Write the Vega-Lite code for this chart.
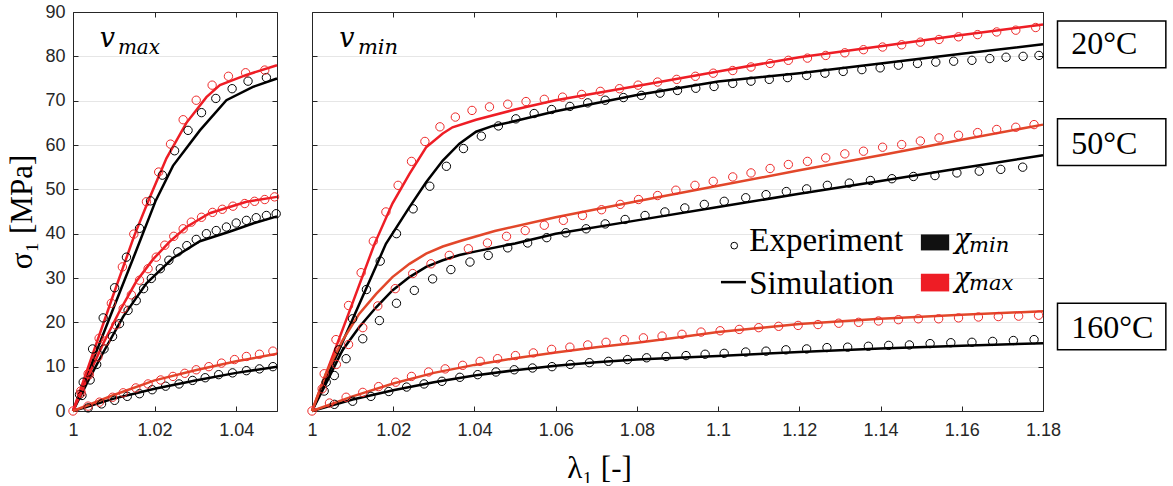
{
  "$schema": "https://vega.github.io/schema/vega-lite/v6.json",
  "background": "white",
  "padding": {"left": 6, "top": 3, "right": 0, "bottom": 0},
  "spacing": 35,
  "bounds": "flush",
  "config": {
    "view": {"stroke": null},
    "axis": {
      "domainColor": "#262626", "domainWidth": 1,
      "tickColor": "#262626", "tickWidth": 1, "tickSize": -5,
      "labelColor": "#262626", "labelFont": "Liberation Sans", "labelFontSize": 18,
      "labelFlush": false, "labelOverlap": false,
      "gridColor": "#e6e6e6", "gridWidth": 1,
      "titleFont": "Liberation Serif", "titleFontWeight": "normal", "titleColor": "#000", "titleFontSize": 31
    }
  },
  "datasets": {
    "sim": [
      {"p":"L","t":20,"c":"max","x":1,"y":0},{"p":"L","t":20,"c":"max","x":1.005,"y":13.3},{"p":"L","t":20,"c":"max","x":1.01,"y":26.5},{"p":"L","t":20,"c":"max","x":1.015,"y":39.5},{"p":"L","t":20,"c":"max","x":1.0185,"y":47.5},{"p":"L","t":20,"c":"max","x":1.0229,"y":57.0},{"p":"L","t":20,"c":"max","x":1.0278,"y":65.0},{"p":"L","t":20,"c":"max","x":1.0327,"y":70.8},{"p":"L","t":20,"c":"max","x":1.036,"y":73.5},{"p":"L","t":20,"c":"max","x":1.0425,"y":75.8},{"p":"L","t":20,"c":"max","x":1.05,"y":78.0},
      {"p":"L","t":20,"c":"min","x":1,"y":0},{"p":"L","t":20,"c":"min","x":1.005,"y":11.7},{"p":"L","t":20,"c":"min","x":1.01,"y":23.4},{"p":"L","t":20,"c":"min","x":1.015,"y":35.0},{"p":"L","t":20,"c":"min","x":1.0203,"y":47.5},{"p":"L","t":20,"c":"min","x":1.0245,"y":55.3},{"p":"L","t":20,"c":"min","x":1.0311,"y":63.3},{"p":"L","t":20,"c":"min","x":1.0376,"y":70.1},{"p":"L","t":20,"c":"min","x":1.0441,"y":73.1},{"p":"L","t":20,"c":"min","x":1.05,"y":75.0},
      {"p":"L","t":50,"c":"max","x":1,"y":0},{"p":"L","t":50,"c":"max","x":1.0037,"y":7.8},{"p":"L","t":50,"c":"max","x":1.0074,"y":15.2},{"p":"L","t":50,"c":"max","x":1.0114,"y":22.5},{"p":"L","t":50,"c":"max","x":1.0155,"y":29.2},{"p":"L","t":50,"c":"max","x":1.0196,"y":34.2},{"p":"L","t":50,"c":"max","x":1.0237,"y":38.2},{"p":"L","t":50,"c":"max","x":1.0278,"y":41.5},{"p":"L","t":50,"c":"max","x":1.0335,"y":44.6},{"p":"L","t":50,"c":"max","x":1.0425,"y":47.2},{"p":"L","t":50,"c":"max","x":1.05,"y":48.3},
      {"p":"L","t":50,"c":"min","x":1,"y":0},{"p":"L","t":50,"c":"min","x":1.0037,"y":6.8},{"p":"L","t":50,"c":"min","x":1.0074,"y":13.2},{"p":"L","t":50,"c":"min","x":1.0123,"y":21.3},{"p":"L","t":50,"c":"min","x":1.018,"y":28.8},{"p":"L","t":50,"c":"min","x":1.0245,"y":34.5},{"p":"L","t":50,"c":"min","x":1.0311,"y":38.3},{"p":"L","t":50,"c":"min","x":1.0385,"y":40.5},{"p":"L","t":50,"c":"min","x":1.0441,"y":42.3},{"p":"L","t":50,"c":"min","x":1.05,"y":43.9},
      {"p":"L","t":160,"c":"max","x":1,"y":0},{"p":"L","t":160,"c":"max","x":1.01,"y":3.6},{"p":"L","t":160,"c":"max","x":1.02,"y":6.9},{"p":"L","t":160,"c":"max","x":1.03,"y":9.2},{"p":"L","t":160,"c":"max","x":1.04,"y":11.2},{"p":"L","t":160,"c":"max","x":1.05,"y":12.9},
      {"p":"L","t":160,"c":"min","x":1,"y":0},{"p":"L","t":160,"c":"min","x":1.01,"y":2.8},{"p":"L","t":160,"c":"min","x":1.02,"y":5.0},{"p":"L","t":160,"c":"min","x":1.03,"y":6.9},{"p":"L","t":160,"c":"min","x":1.04,"y":8.6},{"p":"L","t":160,"c":"min","x":1.05,"y":10.0},
      {"p":"R","t":20,"c":"max","x":1,"y":0},{"p":"R","t":20,"c":"max","x":1.005,"y":12.2},{"p":"R","t":20,"c":"max","x":1.01,"y":24.4},{"p":"R","t":20,"c":"max","x":1.0154,"y":37.7},{"p":"R","t":20,"c":"max","x":1.0198,"y":46.8},{"p":"R","t":20,"c":"max","x":1.024,"y":53.5},{"p":"R","t":20,"c":"max","x":1.0281,"y":59.5},{"p":"R","t":20,"c":"max","x":1.0322,"y":62.6},{"p":"R","t":20,"c":"max","x":1.0346,"y":64.0},{"p":"R","t":20,"c":"max","x":1.0404,"y":65.7},{"p":"R","t":20,"c":"max","x":1.05,"y":68.0},{"p":"R","t":20,"c":"max","x":1.06,"y":70.1},{"p":"R","t":20,"c":"max","x":1.08,"y":73.3},{"p":"R","t":20,"c":"max","x":1.1,"y":76.6},{"p":"R","t":20,"c":"max","x":1.12,"y":79.8},{"p":"R","t":20,"c":"max","x":1.14,"y":82.3},{"p":"R","t":20,"c":"max","x":1.16,"y":84.8},{"p":"R","t":20,"c":"max","x":1.18,"y":87.2},
      {"p":"R","t":20,"c":"min","x":1,"y":0},{"p":"R","t":20,"c":"min","x":1.005,"y":10.3},{"p":"R","t":20,"c":"min","x":1.01,"y":20.7},{"p":"R","t":20,"c":"min","x":1.0182,"y":37.7},{"p":"R","t":20,"c":"min","x":1.024,"y":46.0},{"p":"R","t":20,"c":"min","x":1.0281,"y":51.6},{"p":"R","t":20,"c":"min","x":1.0322,"y":56.5},{"p":"R","t":20,"c":"min","x":1.0363,"y":60.3},{"p":"R","t":20,"c":"min","x":1.0404,"y":63.0},{"p":"R","t":20,"c":"min","x":1.0445,"y":64.3},{"p":"R","t":20,"c":"min","x":1.05,"y":65.4},{"p":"R","t":20,"c":"min","x":1.06,"y":67.6},{"p":"R","t":20,"c":"min","x":1.08,"y":71.3},{"p":"R","t":20,"c":"min","x":1.1,"y":74.3},{"p":"R","t":20,"c":"min","x":1.12,"y":76.2},{"p":"R","t":20,"c":"min","x":1.14,"y":78.4},{"p":"R","t":20,"c":"min","x":1.16,"y":80.6},{"p":"R","t":20,"c":"min","x":1.18,"y":82.7},
      {"p":"R","t":50,"c":"max","x":1,"y":0},{"p":"R","t":50,"c":"max","x":1.0034,"y":8.4},{"p":"R","t":50,"c":"max","x":1.0075,"y":15.9},{"p":"R","t":50,"c":"max","x":1.0116,"y":21.9},{"p":"R","t":50,"c":"max","x":1.0158,"y":26.4},{"p":"R","t":50,"c":"max","x":1.0198,"y":30.2},{"p":"R","t":50,"c":"max","x":1.024,"y":33.2},{"p":"R","t":50,"c":"max","x":1.0281,"y":35.5},{"p":"R","t":50,"c":"max","x":1.0322,"y":37.1},{"p":"R","t":50,"c":"max","x":1.0371,"y":38.5},{"p":"R","t":50,"c":"max","x":1.045,"y":40.6},{"p":"R","t":50,"c":"max","x":1.06,"y":43.7},{"p":"R","t":50,"c":"max","x":1.08,"y":47.3},{"p":"R","t":50,"c":"max","x":1.1,"y":50.8},{"p":"R","t":50,"c":"max","x":1.12,"y":54.3},{"p":"R","t":50,"c":"max","x":1.14,"y":57.7},{"p":"R","t":50,"c":"max","x":1.16,"y":61.2},{"p":"R","t":50,"c":"max","x":1.18,"y":64.6},
      {"p":"R","t":50,"c":"min","x":1,"y":0},{"p":"R","t":50,"c":"min","x":1.0034,"y":6.1},{"p":"R","t":50,"c":"min","x":1.0075,"y":13.7},{"p":"R","t":50,"c":"min","x":1.0116,"y":18.9},{"p":"R","t":50,"c":"min","x":1.0158,"y":23.4},{"p":"R","t":50,"c":"min","x":1.0198,"y":27.2},{"p":"R","t":50,"c":"min","x":1.024,"y":30.2},{"p":"R","t":50,"c":"min","x":1.0281,"y":32.5},{"p":"R","t":50,"c":"min","x":1.0322,"y":34.0},{"p":"R","t":50,"c":"min","x":1.0363,"y":35.2},{"p":"R","t":50,"c":"min","x":1.0404,"y":36.0},{"p":"R","t":50,"c":"min","x":1.05,"y":37.8},{"p":"R","t":50,"c":"min","x":1.06,"y":40.0},{"p":"R","t":50,"c":"min","x":1.08,"y":43.0},{"p":"R","t":50,"c":"min","x":1.1,"y":46.0},{"p":"R","t":50,"c":"min","x":1.12,"y":49.0},{"p":"R","t":50,"c":"min","x":1.14,"y":51.9},{"p":"R","t":50,"c":"min","x":1.16,"y":54.8},{"p":"R","t":50,"c":"min","x":1.18,"y":57.7},
      {"p":"R","t":160,"c":"max","x":1,"y":0},{"p":"R","t":160,"c":"max","x":1.01,"y":3.3},{"p":"R","t":160,"c":"max","x":1.02,"y":6.2},{"p":"R","t":160,"c":"max","x":1.03,"y":8.6},{"p":"R","t":160,"c":"max","x":1.04,"y":10.4},{"p":"R","t":160,"c":"max","x":1.05,"y":11.9},{"p":"R","t":160,"c":"max","x":1.06,"y":13.2},{"p":"R","t":160,"c":"max","x":1.07,"y":14.4},{"p":"R","t":160,"c":"max","x":1.08,"y":15.4},{"p":"R","t":160,"c":"max","x":1.09,"y":16.6},{"p":"R","t":160,"c":"max","x":1.1,"y":17.8},{"p":"R","t":160,"c":"max","x":1.12,"y":19.6},{"p":"R","t":160,"c":"max","x":1.14,"y":20.8},{"p":"R","t":160,"c":"max","x":1.16,"y":21.7},{"p":"R","t":160,"c":"max","x":1.18,"y":22.5},
      {"p":"R","t":160,"c":"min","x":1,"y":0},{"p":"R","t":160,"c":"min","x":1.01,"y":2.6},{"p":"R","t":160,"c":"min","x":1.02,"y":4.7},{"p":"R","t":160,"c":"min","x":1.03,"y":6.5},{"p":"R","t":160,"c":"min","x":1.04,"y":8.0},{"p":"R","t":160,"c":"min","x":1.05,"y":9.2},{"p":"R","t":160,"c":"min","x":1.06,"y":10.2},{"p":"R","t":160,"c":"min","x":1.07,"y":11.0},{"p":"R","t":160,"c":"min","x":1.08,"y":11.6},{"p":"R","t":160,"c":"min","x":1.09,"y":12.0},{"p":"R","t":160,"c":"min","x":1.1,"y":12.4},{"p":"R","t":160,"c":"min","x":1.12,"y":13.3},{"p":"R","t":160,"c":"min","x":1.14,"y":14.1},{"p":"R","t":160,"c":"min","x":1.16,"y":14.7},{"p":"R","t":160,"c":"min","x":1.18,"y":15.3}
    ],
    "exp": [
      {"p":"L","t":20,"c":"max","x":1,"y":0},{"p":"L","t":20,"c":"max","x":1.0019,"y":4.5},{"p":"L","t":20,"c":"max","x":1.0037,"y":8.4},{"p":"L","t":20,"c":"max","x":1.0064,"y":16.4},{"p":"L","t":20,"c":"max","x":1.0094,"y":24.3},{"p":"L","t":20,"c":"max","x":1.0121,"y":32.5},{"p":"L","t":20,"c":"max","x":1.0149,"y":39.9},{"p":"L","t":20,"c":"max","x":1.018,"y":47.2},{"p":"L","t":20,"c":"max","x":1.021,"y":53.9},{"p":"L","t":20,"c":"max","x":1.0239,"y":60.2},{"p":"L","t":20,"c":"max","x":1.027,"y":65.7},{"p":"L","t":20,"c":"max","x":1.0302,"y":70.1},{"p":"L","t":20,"c":"max","x":1.0341,"y":73.5},{"p":"L","t":20,"c":"max","x":1.0381,"y":75.5},{"p":"L","t":20,"c":"max","x":1.0423,"y":76.3},{"p":"L","t":20,"c":"max","x":1.047,"y":76.9},
      {"p":"L","t":20,"c":"min","x":1.0016,"y":3.7},{"p":"L","t":20,"c":"min","x":1.0025,"y":6.5},{"p":"L","t":20,"c":"min","x":1.0048,"y":14.0},{"p":"L","t":20,"c":"min","x":1.0074,"y":21.0},{"p":"L","t":20,"c":"min","x":1.0102,"y":27.8},{"p":"L","t":20,"c":"min","x":1.0131,"y":34.7},{"p":"L","t":20,"c":"min","x":1.0163,"y":41.2},{"p":"L","t":20,"c":"min","x":1.019,"y":47.4},{"p":"L","t":20,"c":"min","x":1.0219,"y":53.2},{"p":"L","t":20,"c":"min","x":1.0249,"y":58.7},{"p":"L","t":20,"c":"min","x":1.0282,"y":63.3},{"p":"L","t":20,"c":"min","x":1.0315,"y":67.3},{"p":"L","t":20,"c":"min","x":1.035,"y":70.5},{"p":"L","t":20,"c":"min","x":1.039,"y":72.7},{"p":"L","t":20,"c":"min","x":1.0429,"y":74.4},{"p":"L","t":20,"c":"min","x":1.0474,"y":75.2},
      {"p":"L","t":50,"c":"max","x":1.002,"y":4.0},{"p":"L","t":50,"c":"max","x":1.004,"y":8.2},{"p":"L","t":50,"c":"max","x":1.0061,"y":12.2},{"p":"L","t":50,"c":"max","x":1.008,"y":15.8},{"p":"L","t":50,"c":"max","x":1.0105,"y":19.4},{"p":"L","t":50,"c":"max","x":1.0123,"y":23.1},{"p":"L","t":50,"c":"max","x":1.0143,"y":26.2},{"p":"L","t":50,"c":"max","x":1.0163,"y":29.5},{"p":"L","t":50,"c":"max","x":1.0184,"y":32.1},{"p":"L","t":50,"c":"max","x":1.0204,"y":34.7},{"p":"L","t":50,"c":"max","x":1.0225,"y":37.4},{"p":"L","t":50,"c":"max","x":1.0247,"y":39.4},{"p":"L","t":50,"c":"max","x":1.027,"y":41.1},{"p":"L","t":50,"c":"max","x":1.029,"y":42.6},{"p":"L","t":50,"c":"max","x":1.0315,"y":43.7},{"p":"L","t":50,"c":"max","x":1.0342,"y":44.8},{"p":"L","t":50,"c":"max","x":1.0366,"y":45.5},{"p":"L","t":50,"c":"max","x":1.0392,"y":46.2},{"p":"L","t":50,"c":"max","x":1.0421,"y":46.8},{"p":"L","t":50,"c":"max","x":1.0445,"y":47.3},{"p":"L","t":50,"c":"max","x":1.047,"y":47.7},{"p":"L","t":50,"c":"max","x":1.0494,"y":48.3},
      {"p":"L","t":50,"c":"min","x":1.0022,"y":3.5},{"p":"L","t":50,"c":"min","x":1.0042,"y":7.0},{"p":"L","t":50,"c":"min","x":1.0058,"y":10.5},{"p":"L","t":50,"c":"min","x":1.0076,"y":14.0},{"p":"L","t":50,"c":"min","x":1.0097,"y":16.8},{"p":"L","t":50,"c":"min","x":1.0114,"y":19.7},{"p":"L","t":50,"c":"min","x":1.0135,"y":22.7},{"p":"L","t":50,"c":"min","x":1.0155,"y":24.9},{"p":"L","t":50,"c":"min","x":1.0173,"y":27.6},{"p":"L","t":50,"c":"min","x":1.0192,"y":29.9},{"p":"L","t":50,"c":"min","x":1.0214,"y":32.1},{"p":"L","t":50,"c":"min","x":1.0235,"y":34.0},{"p":"L","t":50,"c":"min","x":1.0257,"y":35.9},{"p":"L","t":50,"c":"min","x":1.0279,"y":37.3},{"p":"L","t":50,"c":"min","x":1.0302,"y":38.7},{"p":"L","t":50,"c":"min","x":1.0327,"y":40.0},{"p":"L","t":50,"c":"min","x":1.0351,"y":40.7},{"p":"L","t":50,"c":"min","x":1.0376,"y":41.5},{"p":"L","t":50,"c":"min","x":1.04,"y":42.4},{"p":"L","t":50,"c":"min","x":1.0425,"y":43.0},{"p":"L","t":50,"c":"min","x":1.0449,"y":43.6},{"p":"L","t":50,"c":"min","x":1.0474,"y":44.1},{"p":"L","t":50,"c":"min","x":1.0498,"y":44.5},
      {"p":"L","t":160,"c":"max","x":1.0037,"y":1.1},{"p":"L","t":160,"c":"max","x":1.0065,"y":2.0},{"p":"L","t":160,"c":"max","x":1.0097,"y":3.1},{"p":"L","t":160,"c":"max","x":1.0123,"y":4.1},{"p":"L","t":160,"c":"max","x":1.0154,"y":5.2},{"p":"L","t":160,"c":"max","x":1.0184,"y":6.1},{"p":"L","t":160,"c":"max","x":1.0215,"y":7.0},{"p":"L","t":160,"c":"max","x":1.0245,"y":7.8},{"p":"L","t":160,"c":"max","x":1.0274,"y":8.5},{"p":"L","t":160,"c":"max","x":1.0302,"y":9.3},{"p":"L","t":160,"c":"max","x":1.0333,"y":10.0},{"p":"L","t":160,"c":"max","x":1.0364,"y":10.8},{"p":"L","t":160,"c":"max","x":1.0396,"y":11.6},{"p":"L","t":160,"c":"max","x":1.0425,"y":12.3},{"p":"L","t":160,"c":"max","x":1.0457,"y":12.8},{"p":"L","t":160,"c":"max","x":1.049,"y":13.5},
      {"p":"L","t":160,"c":"min","x":1.0037,"y":0.7},{"p":"L","t":160,"c":"min","x":1.007,"y":1.6},{"p":"L","t":160,"c":"min","x":1.0102,"y":2.4},{"p":"L","t":160,"c":"min","x":1.0133,"y":3.3},{"p":"L","t":160,"c":"min","x":1.0163,"y":3.9},{"p":"L","t":160,"c":"min","x":1.0194,"y":4.8},{"p":"L","t":160,"c":"min","x":1.0227,"y":5.6},{"p":"L","t":160,"c":"min","x":1.026,"y":6.1},{"p":"L","t":160,"c":"min","x":1.0293,"y":6.9},{"p":"L","t":160,"c":"min","x":1.0324,"y":7.5},{"p":"L","t":160,"c":"min","x":1.0357,"y":8.2},{"p":"L","t":160,"c":"min","x":1.0391,"y":8.6},{"p":"L","t":160,"c":"min","x":1.0425,"y":9.1},{"p":"L","t":160,"c":"min","x":1.0457,"y":9.5},{"p":"L","t":160,"c":"min","x":1.049,"y":10.0},
      {"p":"R","t":20,"c":"max","x":1,"y":0},{"p":"R","t":20,"c":"max","x":1.003,"y":8.4},{"p":"R","t":20,"c":"max","x":1.0059,"y":16.1},{"p":"R","t":20,"c":"max","x":1.009,"y":23.8},{"p":"R","t":20,"c":"max","x":1.0121,"y":31.2},{"p":"R","t":20,"c":"max","x":1.0151,"y":38.3},{"p":"R","t":20,"c":"max","x":1.0182,"y":44.9},{"p":"R","t":20,"c":"max","x":1.0212,"y":50.9},{"p":"R","t":20,"c":"max","x":1.0245,"y":56.3},{"p":"R","t":20,"c":"max","x":1.0278,"y":60.8},{"p":"R","t":20,"c":"max","x":1.0315,"y":64.1},{"p":"R","t":20,"c":"max","x":1.0353,"y":66.3},{"p":"R","t":20,"c":"max","x":1.0394,"y":67.8},{"p":"R","t":20,"c":"max","x":1.0437,"y":68.6},{"p":"R","t":20,"c":"max","x":1.0482,"y":69.2},{"p":"R","t":20,"c":"max","x":1.0527,"y":69.8},{"p":"R","t":20,"c":"max","x":1.0572,"y":70.3},{"p":"R","t":20,"c":"max","x":1.0617,"y":70.8},{"p":"R","t":20,"c":"max","x":1.0664,"y":71.4},{"p":"R","t":20,"c":"max","x":1.071,"y":72.1},{"p":"R","t":20,"c":"max","x":1.0757,"y":72.7},{"p":"R","t":20,"c":"max","x":1.0803,"y":73.5},{"p":"R","t":20,"c":"max","x":1.0851,"y":74.2},{"p":"R","t":20,"c":"max","x":1.0898,"y":74.8},{"p":"R","t":20,"c":"max","x":1.0944,"y":75.5},{"p":"R","t":20,"c":"max","x":1.0988,"y":76.2},{"p":"R","t":20,"c":"max","x":1.1036,"y":76.8},{"p":"R","t":20,"c":"max","x":1.1081,"y":77.6},{"p":"R","t":20,"c":"max","x":1.1128,"y":78.4},{"p":"R","t":20,"c":"max","x":1.1173,"y":79.1},{"p":"R","t":20,"c":"max","x":1.122,"y":79.6},{"p":"R","t":20,"c":"max","x":1.1265,"y":80.2},{"p":"R","t":20,"c":"max","x":1.1312,"y":80.8},{"p":"R","t":20,"c":"max","x":1.1358,"y":81.5},{"p":"R","t":20,"c":"max","x":1.1405,"y":82.1},{"p":"R","t":20,"c":"max","x":1.1452,"y":82.6},{"p":"R","t":20,"c":"max","x":1.1498,"y":83.2},{"p":"R","t":20,"c":"max","x":1.1544,"y":83.8},{"p":"R","t":20,"c":"max","x":1.1592,"y":84.4},{"p":"R","t":20,"c":"max","x":1.1639,"y":84.9},{"p":"R","t":20,"c":"max","x":1.1686,"y":85.5},{"p":"R","t":20,"c":"max","x":1.1733,"y":85.9},{"p":"R","t":20,"c":"max","x":1.1782,"y":86.5},
      {"p":"R","t":20,"c":"min","x":1.0035,"y":6.5},{"p":"R","t":20,"c":"min","x":1.0066,"y":13.8},{"p":"R","t":20,"c":"min","x":1.01,"y":20.8},{"p":"R","t":20,"c":"min","x":1.0134,"y":27.4},{"p":"R","t":20,"c":"min","x":1.0168,"y":33.8},{"p":"R","t":20,"c":"min","x":1.0208,"y":40.0},{"p":"R","t":20,"c":"min","x":1.0249,"y":45.6},{"p":"R","t":20,"c":"min","x":1.029,"y":50.7},{"p":"R","t":20,"c":"min","x":1.0331,"y":55.2},{"p":"R","t":20,"c":"min","x":1.0373,"y":59.2},{"p":"R","t":20,"c":"min","x":1.0417,"y":62.0},{"p":"R","t":20,"c":"min","x":1.0459,"y":64.3},{"p":"R","t":20,"c":"min","x":1.0502,"y":65.9},{"p":"R","t":20,"c":"min","x":1.0547,"y":67.1},{"p":"R","t":20,"c":"min","x":1.059,"y":68.0},{"p":"R","t":20,"c":"min","x":1.0635,"y":68.7},{"p":"R","t":20,"c":"min","x":1.0679,"y":69.5},{"p":"R","t":20,"c":"min","x":1.0722,"y":70.1},{"p":"R","t":20,"c":"min","x":1.0767,"y":70.7},{"p":"R","t":20,"c":"min","x":1.0811,"y":71.2},{"p":"R","t":20,"c":"min","x":1.0857,"y":71.7},{"p":"R","t":20,"c":"min","x":1.09,"y":72.3},{"p":"R","t":20,"c":"min","x":1.0945,"y":72.8},{"p":"R","t":20,"c":"min","x":1.099,"y":73.2},{"p":"R","t":20,"c":"min","x":1.1036,"y":73.9},{"p":"R","t":20,"c":"min","x":1.1081,"y":74.4},{"p":"R","t":20,"c":"min","x":1.1126,"y":74.8},{"p":"R","t":20,"c":"min","x":1.1171,"y":75.2},{"p":"R","t":20,"c":"min","x":1.1218,"y":75.7},{"p":"R","t":20,"c":"min","x":1.1263,"y":76.2},{"p":"R","t":20,"c":"min","x":1.1308,"y":76.6},{"p":"R","t":20,"c":"min","x":1.1354,"y":77.0},{"p":"R","t":20,"c":"min","x":1.1399,"y":77.4},{"p":"R","t":20,"c":"min","x":1.1444,"y":78.0},{"p":"R","t":20,"c":"min","x":1.1491,"y":78.4},{"p":"R","t":20,"c":"min","x":1.1536,"y":78.7},{"p":"R","t":20,"c":"min","x":1.158,"y":78.9},{"p":"R","t":20,"c":"min","x":1.1625,"y":79.1},{"p":"R","t":20,"c":"min","x":1.1669,"y":79.5},{"p":"R","t":20,"c":"min","x":1.1709,"y":79.8},{"p":"R","t":20,"c":"min","x":1.1751,"y":80.0},{"p":"R","t":20,"c":"min","x":1.179,"y":80.2},
      {"p":"R","t":50,"c":"max","x":1.0025,"y":5.0},{"p":"R","t":50,"c":"max","x":1.006,"y":10.5},{"p":"R","t":50,"c":"max","x":1.009,"y":15.0},{"p":"R","t":50,"c":"max","x":1.0125,"y":18.8},{"p":"R","t":50,"c":"max","x":1.0162,"y":23.7},{"p":"R","t":50,"c":"max","x":1.0205,"y":27.6},{"p":"R","t":50,"c":"max","x":1.0248,"y":31.0},{"p":"R","t":50,"c":"max","x":1.0293,"y":33.2},{"p":"R","t":50,"c":"max","x":1.0338,"y":35.1},{"p":"R","t":50,"c":"max","x":1.0385,"y":36.6},{"p":"R","t":50,"c":"max","x":1.0432,"y":37.9},{"p":"R","t":50,"c":"max","x":1.0479,"y":39.4},{"p":"R","t":50,"c":"max","x":1.0525,"y":40.7},{"p":"R","t":50,"c":"max","x":1.0572,"y":41.9},{"p":"R","t":50,"c":"max","x":1.0619,"y":43.0},{"p":"R","t":50,"c":"max","x":1.0666,"y":44.1},{"p":"R","t":50,"c":"max","x":1.0713,"y":45.4},{"p":"R","t":50,"c":"max","x":1.0759,"y":46.6},{"p":"R","t":50,"c":"max","x":1.0804,"y":47.7},{"p":"R","t":50,"c":"max","x":1.0851,"y":48.6},{"p":"R","t":50,"c":"max","x":1.0896,"y":49.8},{"p":"R","t":50,"c":"max","x":1.0943,"y":50.9},{"p":"R","t":50,"c":"max","x":1.0988,"y":51.8},{"p":"R","t":50,"c":"max","x":1.1036,"y":52.8},{"p":"R","t":50,"c":"max","x":1.1081,"y":53.7},{"p":"R","t":50,"c":"max","x":1.1128,"y":54.7},{"p":"R","t":50,"c":"max","x":1.1173,"y":55.6},{"p":"R","t":50,"c":"max","x":1.122,"y":56.3},{"p":"R","t":50,"c":"max","x":1.1265,"y":57.1},{"p":"R","t":50,"c":"max","x":1.1312,"y":58.0},{"p":"R","t":50,"c":"max","x":1.1358,"y":58.6},{"p":"R","t":50,"c":"max","x":1.1405,"y":59.5},{"p":"R","t":50,"c":"max","x":1.1452,"y":60.1},{"p":"R","t":50,"c":"max","x":1.1498,"y":60.9},{"p":"R","t":50,"c":"max","x":1.1544,"y":61.6},{"p":"R","t":50,"c":"max","x":1.1592,"y":62.2},{"p":"R","t":50,"c":"max","x":1.1639,"y":62.8},{"p":"R","t":50,"c":"max","x":1.1686,"y":63.5},{"p":"R","t":50,"c":"max","x":1.1733,"y":64.0},{"p":"R","t":50,"c":"max","x":1.1778,"y":64.6},
      {"p":"R","t":50,"c":"min","x":1.003,"y":4.5},{"p":"R","t":50,"c":"min","x":1.0055,"y":8.0},{"p":"R","t":50,"c":"min","x":1.0084,"y":11.8},{"p":"R","t":50,"c":"min","x":1.0125,"y":16.3},{"p":"R","t":50,"c":"min","x":1.0166,"y":20.4},{"p":"R","t":50,"c":"min","x":1.0208,"y":24.3},{"p":"R","t":50,"c":"min","x":1.0252,"y":27.2},{"p":"R","t":50,"c":"min","x":1.0297,"y":29.8},{"p":"R","t":50,"c":"min","x":1.0342,"y":31.9},{"p":"R","t":50,"c":"min","x":1.0389,"y":33.6},{"p":"R","t":50,"c":"min","x":1.0434,"y":35.1},{"p":"R","t":50,"c":"min","x":1.0482,"y":36.8},{"p":"R","t":50,"c":"min","x":1.0531,"y":37.9},{"p":"R","t":50,"c":"min","x":1.0578,"y":39.1},{"p":"R","t":50,"c":"min","x":1.0625,"y":40.2},{"p":"R","t":50,"c":"min","x":1.0675,"y":41.1},{"p":"R","t":50,"c":"min","x":1.0722,"y":42.2},{"p":"R","t":50,"c":"min","x":1.0771,"y":43.2},{"p":"R","t":50,"c":"min","x":1.082,"y":44.1},{"p":"R","t":50,"c":"min","x":1.0869,"y":44.9},{"p":"R","t":50,"c":"min","x":1.0918,"y":45.8},{"p":"R","t":50,"c":"min","x":1.0966,"y":46.6},{"p":"R","t":50,"c":"min","x":1.1015,"y":47.3},{"p":"R","t":50,"c":"min","x":1.1068,"y":48.1},{"p":"R","t":50,"c":"min","x":1.1118,"y":48.8},{"p":"R","t":50,"c":"min","x":1.1168,"y":49.5},{"p":"R","t":50,"c":"min","x":1.1218,"y":50.1},{"p":"R","t":50,"c":"min","x":1.1269,"y":50.9},{"p":"R","t":50,"c":"min","x":1.1323,"y":51.4},{"p":"R","t":50,"c":"min","x":1.1375,"y":52.0},{"p":"R","t":50,"c":"min","x":1.1428,"y":52.4},{"p":"R","t":50,"c":"min","x":1.1481,"y":52.9},{"p":"R","t":50,"c":"min","x":1.1534,"y":53.1},{"p":"R","t":50,"c":"min","x":1.1588,"y":53.7},{"p":"R","t":50,"c":"min","x":1.1643,"y":54.1},{"p":"R","t":50,"c":"min","x":1.1696,"y":54.5},{"p":"R","t":50,"c":"min","x":1.175,"y":55.0},
      {"p":"R","t":160,"c":"max","x":1.0043,"y":1.8},{"p":"R","t":160,"c":"max","x":1.0084,"y":3.1},{"p":"R","t":160,"c":"max","x":1.0125,"y":4.2},{"p":"R","t":160,"c":"max","x":1.0164,"y":5.5},{"p":"R","t":160,"c":"max","x":1.0206,"y":6.5},{"p":"R","t":160,"c":"max","x":1.0245,"y":7.8},{"p":"R","t":160,"c":"max","x":1.0287,"y":8.8},{"p":"R","t":160,"c":"max","x":1.0328,"y":9.5},{"p":"R","t":160,"c":"max","x":1.0371,"y":10.3},{"p":"R","t":160,"c":"max","x":1.0414,"y":11.2},{"p":"R","t":160,"c":"max","x":1.0457,"y":11.8},{"p":"R","t":160,"c":"max","x":1.0501,"y":12.5},{"p":"R","t":160,"c":"max","x":1.0545,"y":13.1},{"p":"R","t":160,"c":"max","x":1.059,"y":13.9},{"p":"R","t":160,"c":"max","x":1.0635,"y":14.4},{"p":"R","t":160,"c":"max","x":1.0679,"y":14.9},{"p":"R","t":160,"c":"max","x":1.0724,"y":15.5},{"p":"R","t":160,"c":"max","x":1.0769,"y":16.1},{"p":"R","t":160,"c":"max","x":1.0816,"y":16.5},{"p":"R","t":160,"c":"max","x":1.0862,"y":16.9},{"p":"R","t":160,"c":"max","x":1.0911,"y":17.3},{"p":"R","t":160,"c":"max","x":1.0958,"y":17.8},{"p":"R","t":160,"c":"max","x":1.1005,"y":18.1},{"p":"R","t":160,"c":"max","x":1.1052,"y":18.4},{"p":"R","t":160,"c":"max","x":1.11,"y":18.8},{"p":"R","t":160,"c":"max","x":1.1149,"y":19.1},{"p":"R","t":160,"c":"max","x":1.1197,"y":19.3},{"p":"R","t":160,"c":"max","x":1.1246,"y":19.5},{"p":"R","t":160,"c":"max","x":1.1297,"y":19.8},{"p":"R","t":160,"c":"max","x":1.1346,"y":20.0},{"p":"R","t":160,"c":"max","x":1.1395,"y":20.3},{"p":"R","t":160,"c":"max","x":1.1444,"y":20.6},{"p":"R","t":160,"c":"max","x":1.1493,"y":20.8},{"p":"R","t":160,"c":"max","x":1.1543,"y":20.8},{"p":"R","t":160,"c":"max","x":1.1592,"y":21.0},{"p":"R","t":160,"c":"max","x":1.1641,"y":21.2},{"p":"R","t":160,"c":"max","x":1.169,"y":21.3},{"p":"R","t":160,"c":"max","x":1.174,"y":21.4},{"p":"R","t":160,"c":"max","x":1.1789,"y":21.6},
      {"p":"R","t":160,"c":"min","x":1.0055,"y":1.5},{"p":"R","t":160,"c":"min","x":1.01,"y":2.2},{"p":"R","t":160,"c":"min","x":1.0145,"y":3.3},{"p":"R","t":160,"c":"min","x":1.0189,"y":4.4},{"p":"R","t":160,"c":"min","x":1.0233,"y":5.4},{"p":"R","t":160,"c":"min","x":1.0276,"y":6.1},{"p":"R","t":160,"c":"min","x":1.032,"y":6.7},{"p":"R","t":160,"c":"min","x":1.0364,"y":7.6},{"p":"R","t":160,"c":"min","x":1.0408,"y":8.2},{"p":"R","t":160,"c":"min","x":1.0453,"y":8.8},{"p":"R","t":160,"c":"min","x":1.0498,"y":9.3},{"p":"R","t":160,"c":"min","x":1.0543,"y":9.7},{"p":"R","t":160,"c":"min","x":1.0591,"y":10.0},{"p":"R","t":160,"c":"min","x":1.0636,"y":10.5},{"p":"R","t":160,"c":"min","x":1.0683,"y":10.9},{"p":"R","t":160,"c":"min","x":1.073,"y":11.2},{"p":"R","t":160,"c":"min","x":1.0777,"y":11.6},{"p":"R","t":160,"c":"min","x":1.0824,"y":12.0},{"p":"R","t":160,"c":"min","x":1.0872,"y":12.3},{"p":"R","t":160,"c":"min","x":1.0921,"y":12.5},{"p":"R","t":160,"c":"min","x":1.0968,"y":12.8},{"p":"R","t":160,"c":"min","x":1.1015,"y":13.0},{"p":"R","t":160,"c":"min","x":1.1068,"y":13.3},{"p":"R","t":160,"c":"min","x":1.1118,"y":13.5},{"p":"R","t":160,"c":"min","x":1.1167,"y":13.8},{"p":"R","t":160,"c":"min","x":1.1218,"y":14.0},{"p":"R","t":160,"c":"min","x":1.1268,"y":14.3},{"p":"R","t":160,"c":"min","x":1.1319,"y":14.4},{"p":"R","t":160,"c":"min","x":1.137,"y":14.6},{"p":"R","t":160,"c":"min","x":1.142,"y":14.8},{"p":"R","t":160,"c":"min","x":1.1471,"y":14.9},{"p":"R","t":160,"c":"min","x":1.1522,"y":15.2},{"p":"R","t":160,"c":"min","x":1.1573,"y":15.4},{"p":"R","t":160,"c":"min","x":1.1625,"y":15.5},{"p":"R","t":160,"c":"min","x":1.1676,"y":15.7},{"p":"R","t":160,"c":"min","x":1.1727,"y":15.9},{"p":"R","t":160,"c":"min","x":1.1778,"y":16.1}
    ]
  },
  "hconcat": [
    {
      "width": 204, "height": 399,
      "layer": [
        {
          "data": {"name": "sim"},
          "transform": [{"filter": "datum.p == 'L' && datum.c == 'min'"}],
          "mark": {"type": "line", "color": "#000000", "strokeWidth": 2.5},
          "encoding": {
            "x": {"field": "x", "type": "quantitative", "scale": {"domain": [1, 1.05], "nice": false, "zero": false},
                  "axis": {"orient": "bottom", "values": [1, 1.02, 1.04], "format": "~g", "title": null, "grid": false, "labelPadding": 15}},
            "y": {"field": "y", "type": "quantitative", "scale": {"domain": [0, 90], "nice": false, "zero": false},
                  "axis": {"orient": "left", "values": [0,10,20,30,40,50,60,70,80,90], "grid": true, "title": "σ₁ [MPa]", "titleX": -42, "titleBaseline": "alphabetic", "labelPadding": 13}},
            "detail": {"field": "t"}
          }
        },
        {
          "data": {"name": "sim"},
          "transform": [{"filter": "datum.p == 'L' && datum.c == 'max' && datum.t != 160"}],
          "mark": {"type": "line", "color": "#EE1D25", "strokeWidth": 2.5},
          "encoding": {
            "x": {"field": "x", "type": "quantitative", "scale": {"domain": [1, 1.05], "nice": false, "zero": false},
                  "axis": {"orient": "top", "values": [1, 1.02, 1.04], "labels": false, "title": null, "grid": false}},
            "y": {"field": "y", "type": "quantitative", "scale": {"domain": [0, 90], "nice": false, "zero": false},
                  "axis": {"orient": "right", "values": [0,10,20,30,40,50,60,70,80,90], "labels": false, "title": null, "grid": false}},
            "detail": {"field": "t"}
          }
        },
        {
          "data": {"name": "sim"},
          "transform": [{"filter": "datum.p == 'L' && datum.c == 'max' && datum.t == 160"}],
          "mark": {"type": "line", "color": "#E2472A", "strokeWidth": 2.5},
          "encoding": {
            "x": {"field": "x", "type": "quantitative", "scale": {"domain": [1, 1.05], "nice": false, "zero": false}, "axis": null},
            "y": {"field": "y", "type": "quantitative", "scale": {"domain": [0, 90], "nice": false, "zero": false}, "axis": null}
          }
        },
        {
          "data": {"name": "exp"},
          "transform": [{"filter": "datum.p == 'L' && datum.c == 'min'"}],
          "mark": {"type": "point", "shape": "circle", "filled": false, "color": "#000000", "strokeWidth": 1, "size": 70, "opacity": 1},
          "encoding": {
            "x": {"field": "x", "type": "quantitative", "scale": {"domain": [1, 1.05], "nice": false, "zero": false}, "axis": null},
            "y": {"field": "y", "type": "quantitative", "scale": {"domain": [0, 90], "nice": false, "zero": false}, "axis": null}
          }
        },
        {
          "data": {"name": "exp"},
          "transform": [{"filter": "datum.p == 'L' && datum.c == 'max'"}],
          "mark": {"type": "point", "shape": "circle", "filled": false, "color": "#EE2A2A", "strokeWidth": 1, "size": 70, "opacity": 1},
          "encoding": {
            "x": {"field": "x", "type": "quantitative", "scale": {"domain": [1, 1.05], "nice": false, "zero": false}, "axis": null},
            "y": {"field": "y", "type": "quantitative", "scale": {"domain": [0, 90], "nice": false, "zero": false}, "axis": null}
          }
        },
        {
          "data": {"values": [{"x": 1.00654, "y": 82.1, "s": "v"}]},
          "mark": {"type": "text", "font": "DejaVu Serif", "fontStyle": "italic", "fontSize": 27, "align": "left", "baseline": "alphabetic", "color": "#000"},
          "encoding": {
            "x": {"field": "x", "type": "quantitative", "scale": {"domain": [1, 1.05], "nice": false, "zero": false}, "axis": null},
            "y": {"field": "y", "type": "quantitative", "scale": {"domain": [0, 90], "nice": false, "zero": false}, "axis": null},
            "text": {"field": "s"}
          }
        },
        {
          "data": {"values": [{"x": 1.0110, "y": 80.6, "s": "max"}]},
          "mark": {"type": "text", "font": "DejaVu Serif", "fontStyle": "italic", "fontSize": 20, "align": "left", "baseline": "alphabetic", "color": "#000"},
          "encoding": {
            "x": {"field": "x", "type": "quantitative", "scale": {"domain": [1, 1.05], "nice": false, "zero": false}, "axis": null},
            "y": {"field": "y", "type": "quantitative", "scale": {"domain": [0, 90], "nice": false, "zero": false}, "axis": null},
            "text": {"field": "s"}
          }
        }
      ]
    },
    {
      "width": 731, "height": 399,
      "layer": [
        {
          "data": {"name": "sim"},
          "transform": [{"filter": "datum.p == 'R' && datum.c == 'min'"}],
          "mark": {"type": "line", "color": "#000000", "strokeWidth": 2.5},
          "encoding": {
            "x": {"field": "x", "type": "quantitative", "scale": {"domain": [1, 1.18], "nice": false, "zero": false},
                  "axis": {"orient": "bottom", "values": [1,1.02,1.04,1.06,1.08,1.1,1.12,1.14,1.16,1.18], "format": "~g", "title": "λ₁ [-]", "titleX": 287, "titleY": 66, "titleBaseline": "alphabetic", "titleAlign": "center", "grid": false, "labelPadding": 15}},
            "y": {"field": "y", "type": "quantitative", "scale": {"domain": [0, 90], "nice": false, "zero": false},
                  "axis": {"orient": "left", "values": [0,10,20,30,40,50,60,70,80,90], "grid": true, "labels": false, "title": null}},
            "detail": {"field": "t"}
          }
        },
        {
          "data": {"name": "sim"},
          "transform": [{"filter": "datum.p == 'R' && datum.c == 'max' && datum.t == 20"}],
          "mark": {"type": "line", "color": "#EE1D25", "strokeWidth": 2.5},
          "encoding": {
            "x": {"field": "x", "type": "quantitative", "scale": {"domain": [1, 1.18], "nice": false, "zero": false},
                  "axis": {"orient": "top", "values": [1,1.02,1.04,1.06,1.08,1.1,1.12,1.14,1.16,1.18], "labels": false, "title": null, "grid": false}},
            "y": {"field": "y", "type": "quantitative", "scale": {"domain": [0, 90], "nice": false, "zero": false},
                  "axis": {"orient": "right", "values": [0,10,20,30,40,50,60,70,80,90], "labels": false, "title": null, "grid": false}}
          }
        },
        {
          "data": {"name": "sim"},
          "transform": [{"filter": "datum.p == 'R' && datum.c == 'max' && datum.t != 20"}],
          "mark": {"type": "line", "color": "#E2472A", "strokeWidth": 2.5},
          "encoding": {
            "x": {"field": "x", "type": "quantitative", "scale": {"domain": [1, 1.18], "nice": false, "zero": false}, "axis": null},
            "y": {"field": "y", "type": "quantitative", "scale": {"domain": [0, 90], "nice": false, "zero": false}, "axis": null},
            "detail": {"field": "t"}
          }
        },
        {
          "data": {"name": "exp"},
          "transform": [{"filter": "datum.p == 'R' && datum.c == 'min'"}],
          "mark": {"type": "point", "shape": "circle", "filled": false, "color": "#000000", "strokeWidth": 1, "size": 70, "opacity": 1},
          "encoding": {
            "x": {"field": "x", "type": "quantitative", "scale": {"domain": [1, 1.18], "nice": false, "zero": false}, "axis": null},
            "y": {"field": "y", "type": "quantitative", "scale": {"domain": [0, 90], "nice": false, "zero": false}, "axis": null}
          }
        },
        {
          "data": {"name": "exp"},
          "transform": [{"filter": "datum.p == 'R' && datum.c == 'max'"}],
          "mark": {"type": "point", "shape": "circle", "filled": false, "color": "#EE2A2A", "strokeWidth": 1, "size": 70, "opacity": 1},
          "encoding": {
            "x": {"field": "x", "type": "quantitative", "scale": {"domain": [1, 1.18], "nice": false, "zero": false}, "axis": null},
            "y": {"field": "y", "type": "quantitative", "scale": {"domain": [0, 90], "nice": false, "zero": false}, "axis": null}
          }
        },
        {
          "data": {"values": [{"x": 1.00672, "y": 82.0, "s": "v"}, {"x": 1.15813, "y": 36.76, "s": "χ"}, {"x": 1.15813, "y": 27.87, "s": "χ"}]},
          "mark": {"type": "text", "font": "DejaVu Serif", "fontStyle": "italic", "fontSize": 27, "align": "left", "baseline": "alphabetic", "color": "#000"},
          "encoding": {
            "x": {"field": "x", "type": "quantitative", "scale": {"domain": [1, 1.18], "nice": false, "zero": false}, "axis": null},
            "y": {"field": "y", "type": "quantitative", "scale": {"domain": [0, 90], "nice": false, "zero": false}, "axis": null},
            "text": {"field": "s"}
          }
        },
        {
          "data": {"values": [{"x": 1.0113, "y": 80.5, "s": "min"}, {"x": 1.1618, "y": 35.84, "s": "min"}, {"x": 1.1618, "y": 27.35, "s": "max"}]},
          "mark": {"type": "text", "font": "DejaVu Serif", "fontStyle": "italic", "fontSize": 21, "align": "left", "baseline": "alphabetic", "color": "#000"},
          "encoding": {
            "x": {"field": "x", "type": "quantitative", "scale": {"domain": [1, 1.18], "nice": false, "zero": false}, "axis": null},
            "y": {"field": "y", "type": "quantitative", "scale": {"domain": [0, 90], "nice": false, "zero": false}, "axis": null},
            "text": {"field": "s"}
          }
        },
        {
          "data": {"values": [{"x": 1.10767, "y": 36.06, "s": "Experiment"}, {"x": 1.10767, "y": 26.45, "s": "Simulation"}]},
          "mark": {"type": "text", "font": "Liberation Serif", "fontSize": 33, "align": "left", "baseline": "alphabetic", "color": "#000"},
          "encoding": {
            "x": {"field": "x", "type": "quantitative", "scale": {"domain": [1, 1.18], "nice": false, "zero": false}, "axis": null},
            "y": {"field": "y", "type": "quantitative", "scale": {"domain": [0, 90], "nice": false, "zero": false}, "axis": null},
            "text": {"field": "s"}
          }
        },
        {
          "data": {"values": [{"x": 1.10397, "y": 37.3}]},
          "mark": {"type": "point", "shape": "circle", "filled": false, "color": "#000000", "strokeWidth": 1, "size": 45, "opacity": 1},
          "encoding": {
            "x": {"field": "x", "type": "quantitative", "scale": {"domain": [1, 1.18], "nice": false, "zero": false}, "axis": null},
            "y": {"field": "y", "type": "quantitative", "scale": {"domain": [0, 90], "nice": false, "zero": false}, "axis": null}
          }
        },
        {
          "data": {"values": [{"x": 1.1007, "x2": 1.10685, "y": 29.07}]},
          "mark": {"type": "rule", "color": "#000000", "strokeWidth": 2.5},
          "encoding": {
            "x": {"field": "x", "type": "quantitative", "scale": {"domain": [1, 1.18], "nice": false, "zero": false}, "axis": null},
            "x2": {"field": "x2"},
            "y": {"field": "y", "type": "quantitative", "scale": {"domain": [0, 90], "nice": false, "zero": false}, "axis": null}
          }
        },
        {
          "data": {"values": [{"k": "min", "x": 1.14993, "x2": 1.1569, "y": 36.22, "y2": 39.83}, {"k": "max", "x": 1.14993, "x2": 1.1569, "y": 26.97, "y2": 30.96}]},
          "mark": {"type": "rect"},
          "encoding": {
            "x": {"field": "x", "type": "quantitative", "scale": {"domain": [1, 1.18], "nice": false, "zero": false}, "axis": null},
            "x2": {"field": "x2"},
            "y": {"field": "y", "type": "quantitative", "scale": {"domain": [0, 90], "nice": false, "zero": false}, "axis": null},
            "y2": {"field": "y2"},
            "color": {"field": "k", "type": "nominal", "scale": {"domain": ["min", "max"], "range": ["#111111", "#EE1D25"]}, "legend": null}
          }
        },
        {
          "data": {"values": [{"x": 1.18357, "x2": 1.21025, "y": 87.97, "y2": 77.45}, {"x": 1.18357, "x2": 1.21025, "y": 65.94, "y2": 55.40}, {"x": 1.18357, "x2": 1.21025, "y": 24.33, "y2": 13.81}]},
          "mark": {"type": "rect", "fill": "white", "stroke": "#000000", "strokeWidth": 1.5},
          "encoding": {
            "x": {"field": "x", "type": "quantitative", "scale": {"domain": [1, 1.18], "nice": false, "zero": false}, "axis": null},
            "x2": {"field": "x2"},
            "y": {"field": "y", "type": "quantitative", "scale": {"domain": [0, 90], "nice": false, "zero": false}, "axis": null},
            "y2": {"field": "y2"}
          }
        },
        {
          "data": {"values": [{"x": 1.18694, "y": 80.45, "s": "20°C"}, {"x": 1.18694, "y": 58.05, "s": "50°C"}, {"x": 1.18694, "y": 16.52, "s": "160°C"}]},
          "mark": {"type": "text", "font": "Liberation Serif", "fontSize": 32, "align": "left", "baseline": "alphabetic", "color": "#000"},
          "encoding": {
            "x": {"field": "x", "type": "quantitative", "scale": {"domain": [1, 1.18], "nice": false, "zero": false}, "axis": null},
            "y": {"field": "y", "type": "quantitative", "scale": {"domain": [0, 90], "nice": false, "zero": false}, "axis": null},
            "text": {"field": "s"}
          }
        }
      ]
    }
  ]
}
